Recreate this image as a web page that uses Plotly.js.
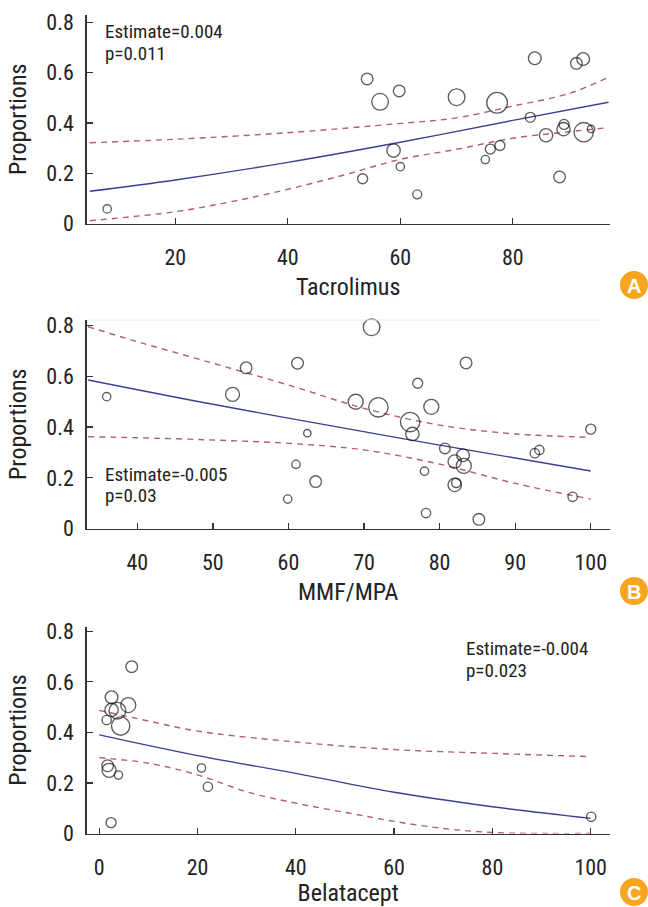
<!DOCTYPE html>
<html>
<head>
<meta charset="utf-8">
<script src="https://cdn.plot.ly/plotly-3.0.1.min.js"></script>
<style>html,body{margin:0;padding:0;background:#fff;}#chart{width:648px;height:907px;}</style>
</head>
<body>
<div id="chart"></div>
<script>
// ---------- Panel A: Tacrolimus ----------
var tacX = [7.9, 53.3, 54.1, 56.4, 58.8, 59.8, 60.0, 63.0, 70.0, 75.1, 76.0, 77.2, 77.7, 83.1, 83.9, 85.9, 88.3, 89.0, 89.1, 91.3, 92.5, 92.6, 93.9];
var tacY = [0.058, 0.178, 0.575, 0.484, 0.29, 0.527, 0.226, 0.116, 0.502, 0.254, 0.296, 0.48, 0.31, 0.422, 0.657, 0.351, 0.185, 0.375, 0.394, 0.637, 0.654, 0.363, 0.376];
var tacW = [25, 30, 35, 50, 40, 35, 25, 27, 50, 25, 30, 62, 30, 30, 38, 40, 35, 40, 30, 35, 38, 58, 22];
var tacFitX = [4.8, 20, 40, 60, 80, 97];
var tacFitY = [0.128, 0.173, 0.243, 0.323, 0.41, 0.482];
var tacUpX = [4.8, 20, 40, 60, 70, 80, 90, 97];
var tacUpY = [0.321, 0.335, 0.361, 0.398, 0.42, 0.467, 0.517, 0.581];
var tacLoX = [4.8, 20, 30, 40, 50, 60, 70, 80, 90, 97];
var tacLoY = [0.011, 0.047, 0.087, 0.136, 0.193, 0.255, 0.295, 0.339, 0.365, 0.381];

// ---------- Panel B: MMF/MPA ----------
var mmfX = [35.95, 52.6, 54.4, 59.9, 61.0, 61.2, 62.5, 63.6, 68.9, 71.0, 71.9, 76.1, 76.4, 77.1, 78.0, 78.2, 78.9, 80.7, 82.0, 82.0, 82.2, 83.1, 83.2, 83.5, 85.2, 92.6, 93.2, 97.6, 100.0];
var mmfY = [0.52, 0.529, 0.634, 0.116, 0.253, 0.652, 0.376, 0.185, 0.50, 0.794, 0.478, 0.42, 0.373, 0.573, 0.226, 0.061, 0.48, 0.316, 0.264, 0.172, 0.18, 0.289, 0.247, 0.653, 0.036, 0.297, 0.31, 0.125, 0.392];
var mmfW = [25, 42, 35, 25, 25, 35, 22, 35, 45, 50, 58, 58, 40, 30, 25, 28, 45, 32, 40, 40, 28, 38, 45, 35, 35, 28, 28, 28, 30];
var mmfFitX = [33.5, 50, 68.1, 80, 100];
var mmfFitY = [0.586, 0.49, 0.392, 0.329, 0.227];
var mmfUpX = [33.5, 40, 50, 60, 70, 80, 90, 100];
var mmfUpY = [0.796, 0.737, 0.652, 0.566, 0.474, 0.408, 0.373, 0.36];
var mmfLoX = [33.5, 40, 50, 60, 70, 80, 90, 100];
var mmfLoY = [0.362, 0.358, 0.349, 0.336, 0.31, 0.254, 0.178, 0.116];

// ---------- Panel C: Belatacept ----------
var belX = [1.5, 1.7, 2.0, 2.4, 2.5, 2.5, 3.7, 3.9, 4.35, 5.9, 6.6, 20.8, 22.1, 100.1];
var belY = [0.449, 0.268, 0.25, 0.043, 0.539, 0.489, 0.486, 0.231, 0.425, 0.508, 0.66, 0.259, 0.185, 0.066];
var belW = [28, 35, 42, 30, 38, 40, 50, 25, 55, 45, 35, 25, 28, 28];
var belFitX = [0, 20, 40, 60, 80, 100];
var belFitY = [0.39, 0.308, 0.238, 0.163, 0.106, 0.06];
var belUpX = [0, 10, 20, 40, 60, 80, 100];
var belUpY = [0.487, 0.445, 0.405, 0.362, 0.332, 0.317, 0.304];
var belLoX = [0, 10, 20, 30, 40, 51, 60, 70, 80, 90, 100];
var belLoY = [0.30, 0.278, 0.232, 0.165, 0.12, 0.08, 0.048, 0.02, 0.004, 0.0, 0.0];

// ---------- text ----------
var xTitles = ["Tacrolimus", "MMF/MPA", "Belatacept"];
var yTitle = "Proportions";
var estTexts = ["Estimate=0.004", "Estimate=-0.005", "Estimate=-0.004"];
var pTexts = ["p=0.011", "p=0.03", "p=0.023"];
var panelLetters = ["A", "B", "C"];
var yTickVals = [0, 0.2, 0.4, 0.6, 0.8];
var yTickText = ["0", "0.2", "0.4", "0.6", "0.8"];
var xTickValsA = [20, 40, 60, 80];
var xTickValsB = [40, 50, 60, 70, 80, 90, 100];
var xTickValsC = [0, 20, 40, 60, 80, 100];

// ---------- styles ----------
var FONT = "'Liberation Sans Narrow', 'Arial Narrow', 'Roboto Condensed', 'Liberation Sans', Arial, sans-serif";
var W = 648, H = 907;
var fitColor = "#3d3f95", ciColor = "#b45c72", ptColor = "#1a1a1a", badgeColor = "#f6a51f";
function px(x) { return x / W; }
function py(y) { return 1 - y / H; }

function panelTraces(xs, ys, ws, fx, fy, ux, uy, lx, ly, xa, ya) {
  return [
    {x: ux, y: uy, xaxis: xa, yaxis: ya, type: "scatter", mode: "lines", line: {color: ciColor, width: 1.4, dash: "6px,5px", shape: "spline"}, hoverinfo: "skip", showlegend: false},
    {x: lx, y: ly, xaxis: xa, yaxis: ya, type: "scatter", mode: "lines", line: {color: ciColor, width: 1.4, dash: "6px,5px", shape: "spline"}, hoverinfo: "skip", showlegend: false},
    {x: fx, y: fy, xaxis: xa, yaxis: ya, type: "scatter", mode: "lines", line: {color: fitColor, width: 1.4, shape: "spline"}, showlegend: false},
    {x: xs, y: ys, xaxis: xa, yaxis: ya, type: "scatter", mode: "markers", cliponaxis: false,
     marker: {size: ws, sizemode: "diameter", sizeref: 3, color: "rgba(0,0,0,0)", line: {color: ptColor, width: 1.35}}, showlegend: false}
  ];
}

var data = [].concat(
  panelTraces(tacX, tacY, tacW, tacFitX, tacFitY, tacUpX, tacUpY, tacLoX, tacLoY, "x", "y"),
  panelTraces(mmfX, mmfY, mmfW, mmfFitX, mmfFitY, mmfUpX, mmfUpY, mmfLoX, mmfLoY, "x2", "y2"),
  panelTraces(belX, belY, belW, belFitX, belFitY, belUpX, belUpY, belLoX, belLoY, "x3", "y3")
);

var xDom = [px(86.8), px(609.5)];
function xAxis(range, vals, title, anchor) {
  return {
    domain: xDom, range: range, anchor: anchor, tickvals: vals, ticktext: vals.map(String),
    showline: true, linecolor: "#333", linewidth: 1.6, ticks: "inside", ticklen: 6, tickwidth: 1.3, tickcolor: "#333",
    showgrid: false, zeroline: false, ticklabelstandoff: 13,
    tickfont: {family: FONT, size: 22, color: "#222"},
    title: {text: title, font: {family: FONT, size: 24, color: "#222"}, standoff: 9},
    fixedrange: true
  };
}
function yAxis(dom, top, anchor) {
  return {
    domain: dom, range: [0, top], anchor: anchor, tickvals: yTickVals, ticktext: yTickText,
    showline: true, linecolor: "#333", linewidth: 1.6, ticks: "inside", ticklen: 6, tickwidth: 1.3, tickcolor: "#333",
    showgrid: false, zeroline: false, ticklabelstandoff: 7,
    tickfont: {family: FONT, size: 22, color: "#222"},
    title: {text: yTitle, font: {family: FONT, size: 24, color: "#222"}, standoff: 13},
    fixedrange: true
  };
}

var annotations = [];
var estPos = [[103, 31.5, 53.5], [103, 474, 495], [464, 648.5, 670]];
for (var i = 0; i < 3; i++) {
  annotations.push({xref: "paper", yref: "paper", x: px(estPos[i][0]), y: py(estPos[i][1]), xanchor: "left", yanchor: "middle",
    text: estTexts[i], showarrow: false, font: {family: FONT, size: 19, color: "#222"}});
  annotations.push({xref: "paper", yref: "paper", x: px(estPos[i][0]), y: py(estPos[i][2]), xanchor: "left", yanchor: "middle",
    text: pTexts[i], showarrow: false, font: {family: FONT, size: 19, color: "#222"}});
}
var badgeY = [285, 591, 892];
var shapes = [];
for (var j = 0; j < 3; j++) {
  shapes.push({type: "circle", xref: "paper", yref: "paper", x0: px(620), x1: px(648), y0: py(badgeY[j] + 14), y1: py(badgeY[j] - 14),
    fillcolor: badgeColor, line: {width: 0}});
  annotations.push({xref: "paper", yref: "paper", x: px(634), y: py(badgeY[j] + 1), xanchor: "center", yanchor: "middle",
    text: "<b>" + panelLetters[j] + "</b>", showarrow: false, font: {family: "'Liberation Sans', Arial, sans-serif", size: 20, color: "#fff"}});
}
// faint top border line of panel B
shapes.push({type: "line", xref: "paper", yref: "paper", x0: px(86.8), x1: px(603), y0: py(320), y1: py(320), line: {color: "#ececec", width: 1}});

var layout = {
  width: W, height: H, margin: {l: 0, r: 0, t: 0, b: 0}, paper_bgcolor: "#fff", plot_bgcolor: "rgba(0,0,0,0)",
  showlegend: false, font: {family: FONT, color: "#222"},
  xaxis: xAxis([4.27, 97.18], xTickValsA, xTitles[0], "y"),
  yaxis: yAxis([py(223.5), py(15)], 0.829, "x"),
  xaxis2: xAxis([33.32, 102.48], xTickValsB, xTitles[1], "y2"),
  yaxis2: yAxis([py(528.5), py(320)], 0.8225, "x2"),
  xaxis3: xAxis([-2.54, 103.83], xTickValsC, xTitles[2], "y3"),
  yaxis3: yAxis([py(833.5), py(626.7)], 0.818, "x3"),
  annotations: annotations, shapes: shapes
};

Plotly.newPlot("chart", data, layout, {displayModeBar: false, staticPlot: true});
</script>
</body>
</html>
